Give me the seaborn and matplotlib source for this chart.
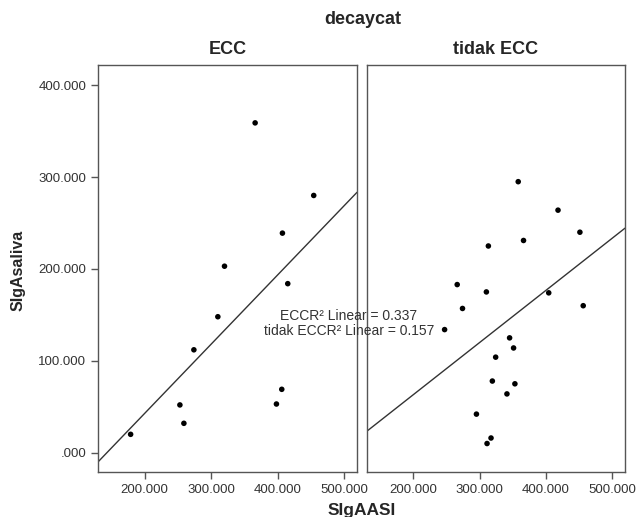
import numpy as np
import pandas as pd
import matplotlib
matplotlib.use("Agg")
import matplotlib.pyplot as plt
import seaborn as sns
from matplotlib.ticker import FuncFormatter

# values
ecc_x = [366, 454, 407, 320, 415, 310, 274, 406, 398, 253, 259, 179]
ecc_y = [359, 280, 239, 203, 184, 148, 112, 69, 53, 52, 32, 20]

tidak_x = [358, 418, 451, 366, 313, 266, 310, 404, 274, 456,
           247, 345, 351, 324, 319, 353, 341, 295, 317, 311]
tidak_y = [295, 264, 240, 231, 225, 183, 175, 174, 157, 160,
           134, 125, 114, 104, 78, 75, 64, 42, 16, 10]

groups = ["ECC", "tidak ECC"]
x_ticks = [200, 300, 400, 500]
y_ticks = [0, 100, 200, 300, 400]
r2_labels = ["ECCR² Linear = 0.337", "tidak ECCR² Linear = 0.157"]

df = pd.DataFrame({
    "SIgAASI": ecc_x + tidak_x,
    "SIgAsaliva": ecc_y + tidak_y,
    "decaycat": ["ECC"] * len(ecc_x) + ["tidak ECC"] * len(tidak_x),
})

sns.set_style("white")
plt.rcParams["font.family"] = ["Liberation Sans", "DejaVu Sans"]

W, H = 638, 517
fig = plt.figure(figsize=(W / 100, H / 100), dpi=100)

def fx(px):
    return px / W

def fy(py):
    return 1 - py / H

ax_left = fig.add_axes([fx(98), fy(472), fx(259), (472 - 65) / H])
ax_right = fig.add_axes([fx(367), fy(472), fx(258), (472 - 65) / H], sharey=ax_left)

def fmt(v, pos):
    s = "%.3f" % v
    if s.startswith("0"):
        s = s[1:]
    return s

for ax, g in zip([ax_left, ax_right], groups):
    ax.set_xlim(130, 519)
    ax.set_ylim(-21, 422)
    sub = df[df["decaycat"] == g]
    sns.regplot(
        data=sub, x="SIgAASI", y="SIgAsaliva", ax=ax,
        ci=None, truncate=False,
        scatter_kws=dict(s=16, color="black", edgecolor="none", alpha=1),
        line_kws=dict(color="#333333", lw=1.0),
    )
    ax.set_xlabel("")
    ax.set_ylabel("")
    ax.set_xticks(x_ticks)
    ax.xaxis.set_major_formatter(FuncFormatter(fmt))
    for sp in ax.spines.values():
        sp.set_color("#555555")
        sp.set_linewidth(1.0)
    ax.tick_params(axis="both", direction="out", length=5, width=1,
                   color="#555555", labelsize=9.5, labelcolor="#333333",
                   bottom=True, left=True)

ax_left.set_yticks(y_ticks)
ax_left.yaxis.set_major_formatter(FuncFormatter(fmt))
ax_right.tick_params(axis="y", left=False, labelleft=False)

# titles
fig.text(fx(363), fy(20), "decaycat", ha="center", va="center",
         fontsize=13, fontweight="bold")
fig.text(fx(227.5), fy(50), groups[0], ha="center", va="center",
         fontsize=13, fontweight="bold")
fig.text(fx(496), fy(50), groups[1], ha="center", va="center",
         fontsize=13, fontweight="bold")

# axis titles
fig.text(fx(18), fy(270), "SIgAsaliva", ha="center", va="center",
         rotation=90, fontsize=11.5, fontweight="bold")
fig.text(fx(362), fy(511), "SIgAASI", ha="center", va="center",
         fontsize=12.5, fontweight="bold")

# R2 labels
fig.text(fx(349), fy(316), r2_labels[0], ha="center", va="center",
         fontsize=10, color="#333333")
fig.text(fx(349), fy(331), r2_labels[1], ha="center", va="center",
         fontsize=10, color="#333333")

fig.savefig("out.png", dpi=100)
